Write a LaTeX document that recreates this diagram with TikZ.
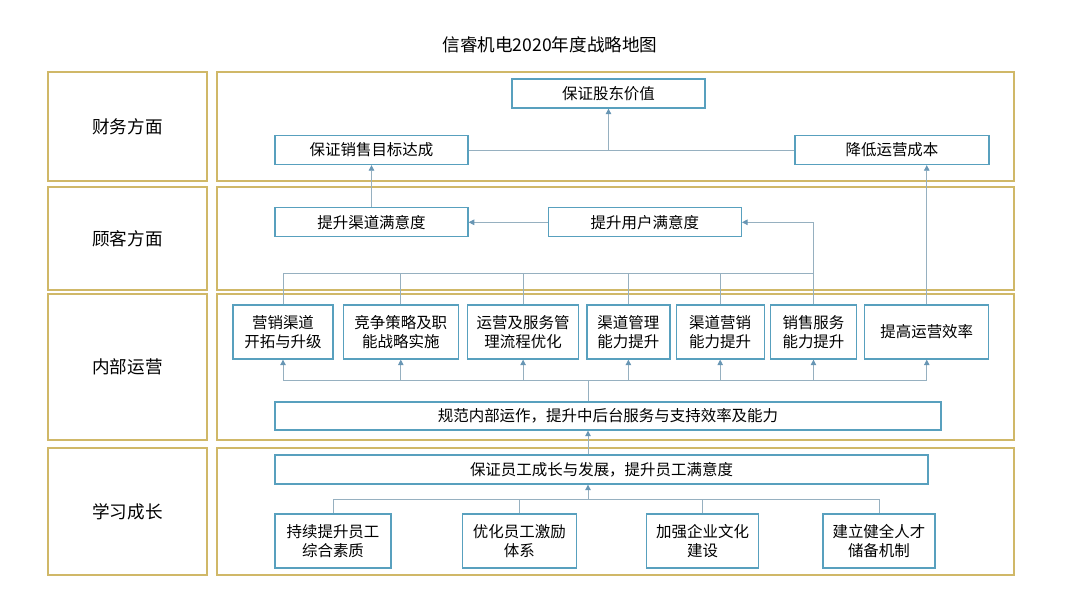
\documentclass[tikz,border=0pt]{standalone}
\usepackage{fontspec}
\newfontfamily\cjk{Noto Sans CJK SC}
\usetikzlibrary{arrows.meta,positioning}
\definecolor{framegold}{RGB}{208,184,104}
\definecolor{boxblue}{RGB}{88,160,190}
\definecolor{linegrey}{RGB}{150,176,192}
\definecolor{tipblue}{RGB}{104,150,180}
\tikzset{
  link/.style={line width=0.6pt, draw=linegrey},
  uplink/.style={link, -{Triangle[length=1.4mm,width=1.4mm,color=tipblue]}},
  box/.style={
    draw=boxblue,
    line width=0.9pt,
    fill=white,
    align=center,
    inner sep=2pt,
    minimum height=0.725cm,
    font=\cjk\fontsize{11}{13.5}\selectfont
  },
  tallbox/.style={box, minimum height=1.35cm},
  frame/.style={draw=framegold, line width=1.2pt, minimum width=19.925cm},
  rowlabel/.style={draw=framegold, line width=1.2pt, minimum width=3.975cm,
    font=\cjk\fontsize{12.5}{15}\selectfont},
  heading/.style={font=\cjk\fontsize{12.5}{15}\selectfont}
}
\begin{document}
\begin{tikzpicture}[x=0.025cm, y=-0.025cm]
  \useasboundingbox (0,0) rectangle (1080,607);
  \node[heading] (title) at (550,45) {信睿机电2020年度战略地图};

  % rows
  \node[rowlabel, minimum height=2.725cm] (lab1) at (127.5,126.5) {财务方面};
  \node[rowlabel, minimum height=2.575cm] (lab2) at (127.5,238.5) {顾客方面};
  \node[rowlabel, minimum height=3.65cm]  (lab3) at (127.5,367) {内部运营};
  \node[rowlabel, minimum height=3.175cm] (lab4) at (127.5,511.5) {学习成长};
  \node[frame, minimum height=2.725cm] (row1) at (615.5,126.5) {};
  \node[frame, minimum height=2.575cm] (row2) at (615.5,238.5) {};
  \node[frame, minimum height=3.65cm]  (row3) at (615.5,367) {};
  \node[frame, minimum height=3.175cm] (row4) at (615.5,511.5) {};

  % financial + customer
  \node[box, minimum width=4.825cm] (value) at (608.5,93.5) {保证股东价值};
  \node[box, minimum width=4.825cm] (sales) at (371.5,150) {保证销售目标达成};
  \node[box, minimum width=4.85cm] (cost) at (892,150) {降低运营成本};
  \node[box, below=1.05cm of sales, minimum width=4.825cm] (chan) {提升渠道满意度};
  \node[box, right=1.975cm of chan, minimum width=4.825cm] (user) {提升用户满意度};

  % internal operations
  \node[tallbox, minimum width=2.5cm] (ops1) at (283,332) {营销渠道\\开拓与升级};
  \node[tallbox, right=0.225cm of ops1, minimum width=2.875cm] (ops2) {竞争策略及职\\能战略实施};
  \node[tallbox, right=0.2cm of ops2, minimum width=2.775cm] (ops3) {运营及服务管\\理流程优化};
  \node[tallbox, right=0.175cm of ops3, minimum width=2.075cm] (ops4) {渠道管理\\能力提升};
  \node[tallbox, right=0.125cm of ops4, minimum width=2.2cm] (ops5) {渠道营销\\能力提升};
  \node[tallbox, right=0.125cm of ops5, minimum width=2.15cm] (ops6) {销售服务\\能力提升};
  \node[tallbox, right=0.175cm of ops6, minimum width=3.1cm] (ops7) {提高运营效率};
  \node[box, minimum width=16.65cm, minimum height=0.7cm] (norm) at (608,416)
    {规范内部运作，提升中后台服务与支持效率及能力};

  % learning
  \node[box, minimum width=16.325cm] (staff) at (601.5,469.5)
    {保证员工成长与发展，提升员工满意度};
  \node[tallbox, minimum width=2.9cm] (learn1) at (333,541) {持续提升员工\\综合素质};
  \node[tallbox, right=1.75cm of learn1, minimum width=2.85cm] (learn2) {优化员工激励\\体系};
  \node[tallbox, right=1.725cm of learn2, minimum width=2.8cm] (learn3) {加强企业文化\\建设};
  \node[tallbox, right=1.575cm of learn3, minimum width=2.8cm] (learn4) {建立健全人才\\储备机制};

  \coordinate (busT) at (0,273);
  \coordinate (busB) at (0,380);
  \coordinate (busL) at (0,499);
  \coordinate (spine) at (588,0);

  \draw[link] (sales.east) -- (sales.east -| cost.west);
  \draw[uplink] (sales.east -| value.south) -- (value.south);
  \draw[uplink] (chan) -- (sales);
  \draw[uplink] (user) -- (chan);
  \draw[uplink] (ops7.north) -- (ops7.north |- cost.south);

  \draw[link] (ops1.north) |- (ops6.north |- busT);
  \foreach \o in {ops2,ops3,ops4,ops5}
    \draw[link] (\o.north) -- (\o.north |- busT);
  \draw[uplink] (ops6.north) |- (user.east);

  \draw[link] (ops1.south |- busB) -- (ops7.south |- busB);
  \foreach \o in {ops1,ops2,ops3,ops4,ops5,ops6,ops7}
    \draw[uplink] (\o.south |- busB) -- (\o.south);
  \draw[link] (spine |- norm.north) -- (spine |- busB);
  \draw[uplink] (spine |- staff.north) -- (spine |- norm.south);

  \draw[link] (learn1.north) -- (learn1.north |- busL) -- (learn4.north |- busL) -- (learn4.north);
  \foreach \o in {learn2,learn3}
    \draw[link] (\o.north) -- (\o.north |- busL);
  \draw[uplink] (spine |- busL) -- (spine |- staff.south);
\end{tikzpicture}
\end{document}
